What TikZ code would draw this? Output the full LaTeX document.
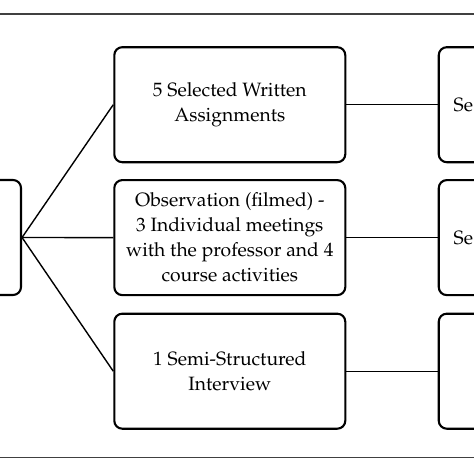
\documentclass[tikz,border=0pt]{standalone}
\usepackage[T1]{fontenc}
\usepackage{mathpazo}
\tikzset{
  txt/.style={font=\fontsize{19.3}{23}\selectfont},
  box/.style={draw=black, line width=2.1pt, rounded corners=8pt, minimum width=231pt, minimum height=115pt, align=center, txt, inner sep=0pt},
  sidebox/.style={draw=black, line width=2.1pt, rounded corners=8pt, minimum width=120pt, minimum height=115pt, inner sep=0pt},
  conn/.style={draw=black, line width=1.4pt},
  rule/.style={draw=black!75, line width=1.2pt}
}
\begin{document}
\begin{tikzpicture}[x=1pt,y=1pt]
\useasboundingbox (0,0) rectangle (474,-474);
\clip (0,0) rectangle (474,-474);
\fill[white] (0,0) rectangle (474,-474);
\coordinate (ruleTL) at (0,-14);
\coordinate (ruleTR) at (474,-14);
\coordinate (ruleBL) at (0,-457.5);
\coordinate (ruleBR) at (474,-457.5);
\draw[rule] (ruleTL) -- (ruleTR);
\draw[rule] (ruleBL) -- (ruleBR);
\node[sidebox] (left) at (-39,-237.5) {};
\node[box] (b1) at (229.8,-104.7) {5 Selected Written\\[2pt]Assignments};
\node[box] (b2) at (229.8,-237.6) {Observation (filmed) -\\[2pt]3 Individual meetings\\[2pt]with the professor and 4\\[2pt]course activities};
\node[box] (b3) at (229.8,-371.2) {1 Semi-Structured\\[2pt]Interview};
\node[sidebox, anchor=west] (r1) at (437.7,-104.7) {};
\node[sidebox, anchor=west] (r2) at (437.7,-237.6) {};
\node[sidebox, anchor=west] (r3) at (437.7,-371.2) {};
\node[txt, anchor=west, inner sep=0pt] (t1) at (453.5,-104.7) {Se};
\node[txt, anchor=west, inner sep=0pt] (t2) at (453.5,-237.6) {Se};
\draw[conn] (left.east) -- (b1.west);
\draw[conn] (left.east) -- (b2.west);
\draw[conn] (left.east) -- (b3.west);
\draw[conn] (b1.east) -- (r1.west);
\draw[conn] (b2.east) -- (r2.west);
\draw[conn] (b3.east) -- (r3.west);
\end{tikzpicture}
\end{document}
